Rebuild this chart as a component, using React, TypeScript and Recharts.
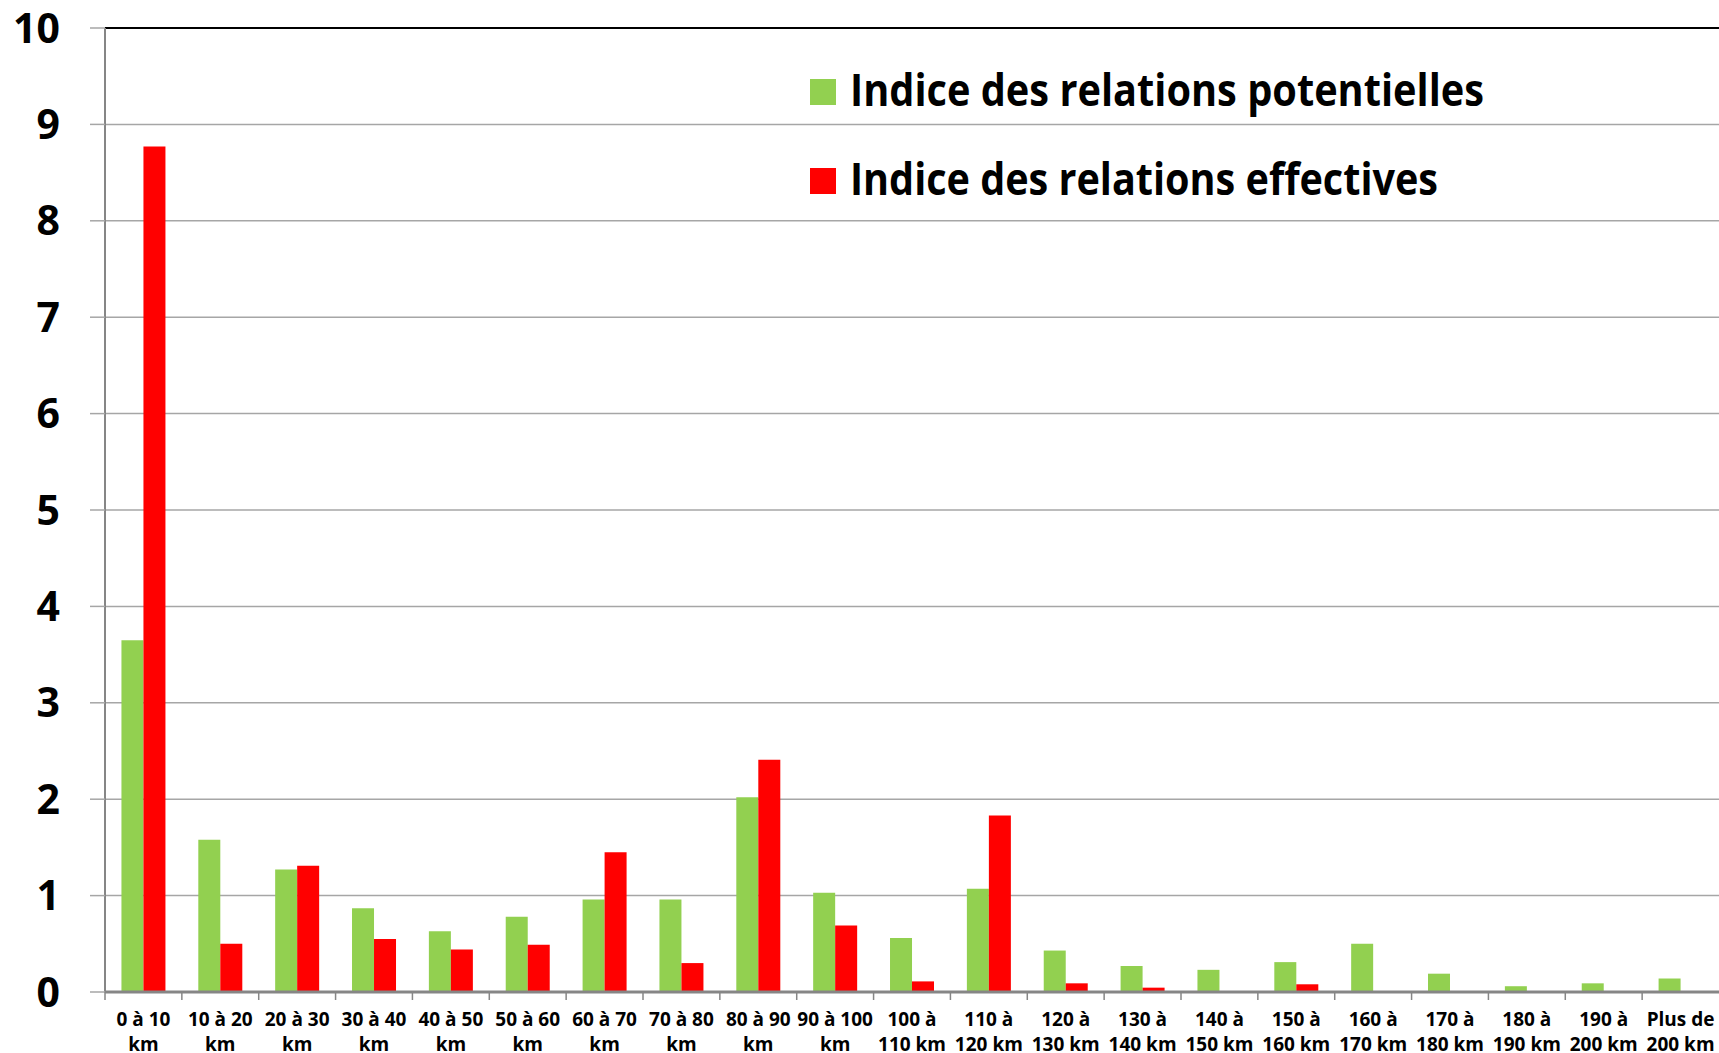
import { BarChart, Bar, XAxis, YAxis, CartesianGrid, Legend, ReferenceLine } from 'recharts';

const categories = [
  '0 à 10\nkm', '10 à 20\nkm', '20 à 30\nkm', '30 à 40\nkm', '40 à 50\nkm',
  '50 à 60\nkm', '60 à 70\nkm', '70 à 80\nkm', '80 à 90\nkm', '90 à 100\nkm',
  '100 à\n110 km', '110 à\n120 km', '120 à\n130 km', '130 à\n140 km', '140 à\n150 km',
  '150 à\n160 km', '160 à\n170 km', '170 à\n180 km', '180 à\n190 km', '190 à\n200 km',
  'Plus de\n200 km',
];

const potentielles = [3.65, 1.58, 1.27, 0.87, 0.63, 0.78, 0.96, 0.96, 2.02, 1.03, 0.56, 1.07, 0.43, 0.27, 0.23, 0.31, 0.5, 0.19, 0.06, 0.09, 0.14];
const effectives = [8.77, 0.5, 1.31, 0.55, 0.44, 0.49, 1.45, 0.3, 2.41, 0.69, 0.11, 1.83, 0.09, 0.045, 0, 0.08, 0, 0, 0, 0, 0];

const yTicks = [0, 1, 2, 3, 4, 5, 6, 7, 8, 9, 10];

const seriesNames = ['Indice des relations potentielles', 'Indice des relations effectives'];
const legendWidths = [634, 588];

const data = categories.map((cat, i) => ({
  cat,
  potentielles: potentielles[i],
  effectives: effectives[i],
}));

const W = 1719;
const H = 1053;
const Y_AXIS_W = 105;
const BAND = (W - Y_AXIS_W) / categories.length;
const FONT = "'Open Sans', sans-serif";

function XTick({ x, y, payload }: any) {
  const lines = String(payload.value).split('\n');
  // boundary tick marks sit between categories, like Excel
  const bx = x - BAND / 2;
  return (
    <g>
      <line x1={bx} x2={bx} y1={y - 8} y2={y} stroke="#868686" strokeWidth={1.5} />
      <text x={x} y={y} textAnchor="middle" fontSize={19} fontWeight={700} fontFamily={FONT} fill="#000">
        {lines.map((l, i) => (
          <tspan key={i} x={x} dy={i === 0 ? 26 : 25}>{l}</tspan>
        ))}
      </text>
    </g>
  );
}

function LegendContent({ payload }: any) {
  // keep the series order (recharts sorts legend items by name otherwise)
  const items = [...(payload || [])].sort(
    (a: any, b: any) => seriesNames.indexOf(a.value) - seriesNames.indexOf(b.value)
  );
  return (
    <svg width={780} height={140}>
      {items.map((p: any, i: number) => (
        <g key={p.value} transform={`translate(0, ${i * 89})`}>
          <rect x={5} y={9} width={26} height={26} fill={p.color} />
          <text
            x={45}
            y={36}
            fontSize={44}
            fontWeight={700}
            fontFamily={FONT}
            fill="#000"
            textLength={legendWidths[seriesNames.indexOf(p.value)]}
            lengthAdjust="spacingAndGlyphs"
          >
            {p.value}
          </text>
        </g>
      ))}
    </svg>
  );
}

export default function App() {
  return (
    <div style={{ position: 'absolute', left: 0, top: 0, width: W, height: H, background: '#fff' }}>
      <BarChart
        width={W}
        height={H}
        data={data}
        margin={{ top: 28, right: 0, bottom: 0, left: 0 }}
        barCategoryGap="21.4%"
        barGap={0}
      >
        <CartesianGrid vertical={false} stroke="#A6A6A6" strokeWidth={1.5} />
        <XAxis
          dataKey="cat"
          height={61}
          interval={0}
          tickSize={8}
          tickMargin={0}
          tickLine={false}
          axisLine={{ stroke: '#868686', strokeWidth: 3 }}
          tick={<XTick />}
        />
        <YAxis
          domain={[0, 10]}
          ticks={yTicks}
          interval={0}
          width={Y_AXIS_W}
          tickSize={15}
          tickMargin={30}
          axisLine={{ stroke: '#868686', strokeWidth: 2 }}
          tickLine={{ stroke: '#A6A6A6', strokeWidth: 1.5 }}
          tick={{ fontSize: 41, fontWeight: 700, fill: '#000', fontFamily: FONT }}
        />
        <ReferenceLine y={10} stroke="#000" strokeWidth={2} />
        <Legend
          layout="vertical"
          verticalAlign="middle"
          align="center"
          wrapperStyle={{ top: 70, left: 805, width: 780, height: 140 }}
          content={<LegendContent />}
        />
        <Bar dataKey="potentielles" name={seriesNames[0]} fill="#92D050" isAnimationActive={false} />
        <Bar dataKey="effectives" name={seriesNames[1]} fill="#FF0000" isAnimationActive={false} />
      </BarChart>
    </div>
  );
}
